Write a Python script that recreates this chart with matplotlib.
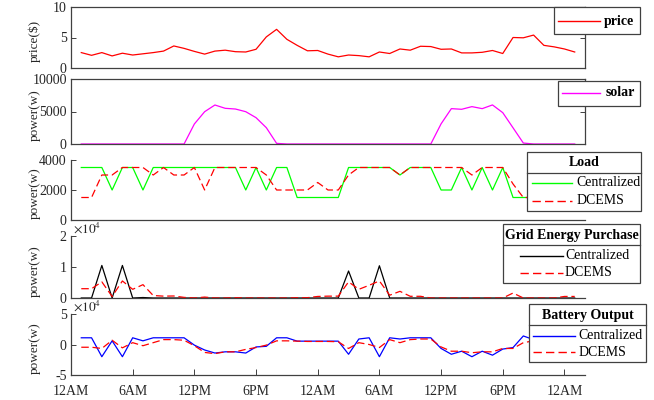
import matplotlib
matplotlib.use("Agg")
import matplotlib.pyplot as plt
from matplotlib.patches import Rectangle
from matplotlib.lines import Line2D

plt.rcParams["font.family"] = ["Liberation Serif", "DejaVu Serif"]
plt.rcParams["mathtext.fontset"] = "stix"
plt.rcParams["font.size"] = 10

# hourly samples, hour 1 .. 49
hours = list(range(1, 50))

price = [2.5, 2.05, 2.5, 1.95, 2.4, 2.1, 2.3, 2.5, 2.75, 3.6,
         3.2, 2.7, 2.25, 2.75, 2.9, 2.65, 2.6, 3.05, 5.1, 6.35,
         4.7, 3.7, 2.8, 2.85, 2.25, 1.8, 2.1, 2.0, 1.8, 2.6,
         2.35, 3.1, 2.9, 3.55, 3.5, 3.05, 3.1, 2.45, 2.45, 2.55,
         2.85, 2.35, 5.0, 4.95, 5.4, 3.7, 3.45, 3.1, 2.6]

solar = [0, 0, 0, 0, 0, 0, 0, 0, 0, 0,
         0, 3080, 4970, 6000, 5490, 5380, 4970, 4050, 2510, 100,
         0, 0, 0, 0, 0, 0, 0, 0, 0, 0,
         0, 0, 0, 0, 0, 3100, 5440, 5340, 5750, 5440,
         6010, 4820, 2490, 150, 0, 0, 0, 0, 0]

load_central = [3500, 3500, 3500, 2000, 3500, 3500, 2000, 3500, 3500, 3500,
                3500, 3500, 3500, 3500, 3500, 3500, 2000, 3500, 2000, 3500,
                3500, 1500, 1500, 1500, 1500, 1500, 3500, 3500, 3500, 3500,
                3500, 3000, 3500, 3500, 3500, 2000, 2000, 3500, 2000, 3500,
                2000, 3500, 1500, 1500, 1500, 1500, 1500, 1500, 1500]
load_dcems = [1500, 1500, 3000, 3000, 3500, 3500, 3500, 3000, 3500, 3000,
              3000, 3500, 2000, 3500, 3500, 3500, 3500, 3500, 3000, 2000,
              2000, 2000, 2000, 2500, 2000, 2000, 3000, 3500, 3500, 3500,
              3500, 3000, 3500, 3500, 3500, 3500, 3500, 3500, 3000, 3500,
              3500, 3500, 2400, 1500, 1500, 1500, 1500, 1500, 1500]

grid_central = [0, 0, 10500, 0, 10500, 0, 150, 0, 0, 0,
                0, 0, 0, 0, 0, 0, 0, 0, 0, 0,
                0, 0, 0, 0, 0, 0, 8700, 0, 0, 10400,
                0, 0, 0, 0, 0, 0, 0, 0, 0, 0,
                0, 0, 0, 0, 0, 0, 0, 0, 0]
grid_dcems = [3000, 3000, 5200, 500, 5500, 2800, 4300, 800, 600, 650,
              200, 0, 300, 0, 0, 100, 0, 0, 0, 0,
              0, 100, 100, 500, 600, 600, 5200, 2800, 4100, 5500,
              900, 2150, 550, 550, 0, 0, 0, 0, 0, 0,
              0, 0, 1600, 0, 0, 0, 0, 500, 500]

batt_central = [11000, 11000, -20000, 6000, -20000, 11000, 6000, 11000, 11000, 11000,
                11000, -1000, -9000, -14000, -12000, -12000, -14000, -4000, -3000, 11000,
                11000, 5500, 5500, 5500, 5500, 5500, -16000, 9000, 11000, -20000,
                11000, 9000, 11000, 11000, 11000, -6500, -16000, -11000, -20000, -11000,
                -17500, -7500, -5000, 14000, 8000, 6000, 5000, 5000, 5000]
batt_dcems = [-4500, -4500, -6500, 7000, -5500, 3000, -2000, 3000, 8000, 8000,
              7000, -2000, -13000, -15000, -12000, -12000, -8000, -5000, -1000, 6000,
              6000, 5500, 5000, 5000, 5000, 4500, -6500, 3000, 0, -5000,
              8000, 3000, 8000, 9000, 9000, -4000, -11000, -11000, -13500, -12000,
              -12000, -6500, -6500, 3000, 6000, 5000, 5000, 5000, 5000]

tick_hours = [0, 6, 12, 18, 24, 30, 36, 42, 48]
tick_names = ["12AM", "6AM", "12PM", "6PM", "12AM", "6AM", "12PM", "6PM", "12AM"]

W, H = 654, 400
DASH = (0, (6, 3))
EDGE = "#404040"
TXT = "#262626"
GREEN = "#00ff00"


def fx(px):
    return px / W


def fy(py):
    return 1 - py / H


fig = plt.figure(figsize=(W / 100, H / 100), dpi=100)


def panel(top, bottom, yticks, ylabels, ylabel, box):
    ax = fig.add_axes([fx(71), fy(bottom), fx(585) - fx(71), (bottom - top) / H])
    ax.set_xlim(0, 50)
    ax.set_ylim(yticks[0], yticks[-1])
    ax.set_yticks(yticks)
    ax.set_yticklabels(ylabels)
    ax.set_xticks([])
    ax.tick_params(axis="both", direction="in", length=3.5, width=0.7,
                   colors=EDGE, labelcolor=TXT, labelsize=10, pad=3)
    if box:
        ax.tick_params(axis="y", right=True)
    for name, sp in ax.spines.items():
        sp.set_color(EDGE)
        sp.set_linewidth(0.9)
        if not box and name in ("top", "right"):
            sp.set_visible(False)
    ax.set_ylabel(ylabel, fontsize=9.5, color=TXT)
    ax.yaxis.set_label_coords(-0.058, 0.44)
    return ax


def legend_box(x0, x1, y0, y1, sep=None):
    fig.add_artist(Rectangle((fx(x0), fy(y1)), fx(x1) - fx(x0), (y1 - y0) / H,
                             transform=fig.transFigure, facecolor="white",
                             edgecolor=EDGE, linewidth=0.9, zorder=10))
    if sep is not None:
        fig.add_artist(Line2D([fx(x0), fx(x1)], [fy(sep), fy(sep)],
                              transform=fig.transFigure, color=EDGE,
                              linewidth=0.9, zorder=11))


def legend_entry(lx0, lx1, y, color, ls, label, tx, bold=False):
    fig.add_artist(Line2D([fx(lx0), fx(lx1)], [fy(y), fy(y)],
                          transform=fig.transFigure, color=color,
                          linestyle=ls, linewidth=1.0, zorder=11))
    fig.text(fx(tx), fy(y), label, ha="left", va="center", fontsize=10,
             fontweight="bold" if bold else "normal", color="black", zorder=12)


# price
ax1 = panel(7.3, 67.7, [0, 5, 10], ["0", "5", "10"], "price($)", True)
ax1.plot(hours, price, color="red", linewidth=0.9)

# solar
ax2 = panel(79, 144, [0, 5000, 10000], ["0", "5000", "10000"], "power(w)", True)
ax2.plot(hours, solar, color="magenta", linewidth=0.9)

# load
ax3 = panel(160, 220, [0, 2000, 4000], ["0", "2000", "4000"], "power(w)", False)
ax3.plot(hours, load_central, color=GREEN, linewidth=0.9)
ax3.plot(hours, load_dcems, color="red", linestyle=DASH, linewidth=0.9)

# grid purchase
ax4 = panel(236, 298, [0, 10000, 20000], ["0", "1", "2"], "power(w)", False)
ax4.plot(hours, grid_central, color="black", linewidth=0.9)
ax4.plot(hours, grid_dcems, color="red", linestyle=DASH, linewidth=0.9)
ax4.text(0.004, 1.0, r"$\times10^{4}$", transform=ax4.transAxes, ha="left",
         va="bottom", fontsize=9.5, color=TXT)

# battery
ax5 = panel(314, 375, [-50000, 0, 50000], ["-5", "0", "5"], "power(w)", False)
ax5.plot(hours, batt_central, color="blue", linewidth=0.9)
ax5.plot(hours, batt_dcems, color="red", linestyle=DASH, linewidth=0.9)
ax5.text(0.004, 1.0, r"$\times10^{4}$", transform=ax5.transAxes, ha="left",
         va="bottom", fontsize=9.5, color=TXT)
ax5.set_xticks(tick_hours)
ax5.set_xticklabels(tick_names)
ax5.tick_params(axis="x", direction="in", length=4, pad=7, labelsize=10)

# legends
legend_box(554, 640, 7, 34)
legend_entry(558, 600, 21, "red", "-", "price", 604, bold=True)

legend_box(558, 640, 81, 106)
legend_entry(562, 600, 93, "magenta", "-", "solar", 606, bold=True)

legend_box(527, 641, 152.3, 210.7, sep=172.7)
fig.text(fx(584), fy(162.5), "Load", ha="center", va="center", fontsize=10,
         fontweight="bold", zorder=12)
legend_entry(531.7, 572.3, 183, GREEN, "-", "Centralized", 576.5)
legend_entry(531.7, 572.3, 200.5, "red", DASH, "DCEMS", 576.5)

legend_box(503.3, 640, 224.3, 282.7, sep=245)
fig.text(fx(571.7), fy(235), "Grid Energy Purchase", ha="center", va="center",
         fontsize=10, fontweight="bold", zorder=12)
legend_entry(520, 562.7, 255.7, "black", "-", "Centralized", 565)
legend_entry(520, 562.7, 272.7, "red", DASH, "DCEMS", 565)

legend_box(529.3, 646, 304.3, 362.3, sep=325)
fig.text(fx(587.6), fy(315), "Battery Output", ha="center", va="center",
         fontsize=10, fontweight="bold", zorder=12)
legend_entry(533.3, 575, 335.7, "blue", "-", "Centralized", 578.3)
legend_entry(533.3, 575, 352.3, "red", DASH, "DCEMS", 578.3)

fig.savefig("out.png", dpi=100)
